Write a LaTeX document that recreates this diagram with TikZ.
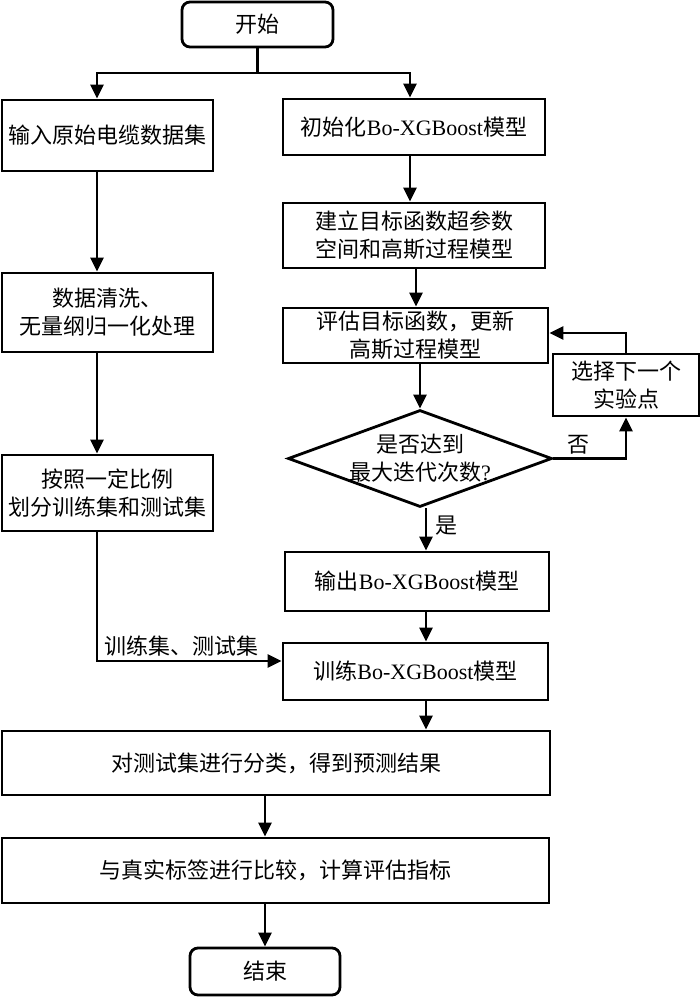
\documentclass[tikz,border=0pt]{standalone}
\usepackage{fontspec}
\setmainfont{Liberation Serif}
\newfontfamily\cjk{Noto Sans CJK SC}
\usetikzlibrary{shapes.geometric,arrows.meta,calc}
\begin{document}
\begin{tikzpicture}[x=1pt,y=-1pt,
  every node/.style={font=\cjk\fontsize{22}{28}\selectfont, align=center, inner sep=0pt},
  box/.style={draw, line width=2.8pt, rectangle},
  term/.style={draw, line width=2.8pt, rectangle, rounded corners=8pt},
  arr/.style={line width=2.8pt, -{Triangle[length=14pt,width=13pt]}},
  ln/.style={line width=2.8pt},
  lab/.style={font=\cjk\fontsize{22}{28}\selectfont}]
\useasboundingbox (0,0) rectangle (700,998);
\fill[white] (0,0) rectangle (700,998);
% terminals
\node[term, minimum width=151, minimum height=45] (s) at (257.5,24.5) {开始};
\node[term, minimum width=150, minimum height=47] (e) at (265,971.5) {结束};
% left column
\node[box, minimum width=211, minimum height=71] (l1) at (107.5,135.5) {输入原始电缆数据集};
\node[box, minimum width=211, minimum height=79] (l2) at (107.5,312.5) {数据清洗、\\无量纲归一化处理};
\node[box, minimum width=211, minimum height=76] (l3) at (107.5,493) {按照一定比例\\划分训练集和测试集};
% right column
\node[box, minimum width=262, minimum height=56] (r1) at (414,127) {初始化{\rmfamily Bo-XGBoost}模型};
\node[box, minimum width=262, minimum height=65] (r2) at (414,235.5) {建立目标函数超参数\\空间和高斯过程模型};
\node[box, minimum width=265, minimum height=55] (r3) at (415.5,335.5) {评估目标函数，更新\\高斯过程模型};
\node[box, minimum width=146, minimum height=62] (r4) at (626,385) {选择下一个\\实验点};
\node[draw, diamond, line width=2.8pt, minimum width=264, minimum height=97] (d) at (420,458.5) {};
\node at (d) {是否达到\\最大迭代次数{\rmfamily ?}};
\node[box, minimum width=264, minimum height=59] (o) at (417,581.5) {输出{\rmfamily Bo-XGBoost}模型};
\node[box, minimum width=265, minimum height=57] (t) at (415.5,671.5) {训练{\rmfamily Bo-XGBoost}模型};
% bottom
\node[box, minimum width=548, minimum height=64] (c) at (276,763) {对测试集进行分类，得到预测结果};
\node[box, minimum width=547, minimum height=65] (m) at (275.5,870.5) {与真实标签进行比较，计算评估指标};
% connectors
\coordinate (j) at (257.5,73);
\draw[ln] (s.south) -- (j);
\draw[arr] (j) -| ([xshift=-10.5]l1.north);
\draw[arr] (j) -| ([xshift=-4]r1.north);
\draw[arr] ([xshift=-10.5]l1.south) -- ([xshift=-10.5]l2.north);
\draw[arr] ([xshift=-10.5]l2.south) -- ([xshift=-10.5]l3.north);
\draw[arr] ([xshift=-10.5]l3.south) |- node[lab, pos=0.73, above=3pt] {训练集、测试集} ([yshift=10.5]t.west);
\draw[arr] ([xshift=-4]r1.south) -- ([xshift=-4]r2.north);
\draw[arr] ([xshift=2]r2.south) -- ([xshift=2]r2.south |- r3.north);
\draw[arr] (d.north |- r3.south) -- (d.north);
\draw[arr] (d.east) -| node[lab, pos=0.17, above=3pt] {否} (r4.south);
\draw[arr] (r4.north) |- ([yshift=2.5]r3.east);
\draw[arr] ([xshift=6]d.south) -- node[lab, right=8pt, pos=0.4] {是} ([xshift=6]d.south |- o.north);
\draw[arr] ([xshift=9]o.south) -- ([xshift=9]o.south |- t.north);
\draw[arr] ([xshift=10.5]t.south) -- ([xshift=10.5]t.south |- c.north);
\draw[arr] ([xshift=-11]c.south) -- ([xshift=-11]c.south |- m.north);
\draw[arr] (e.north |- m.south) -- (e.north);
\end{tikzpicture}
\end{document}
